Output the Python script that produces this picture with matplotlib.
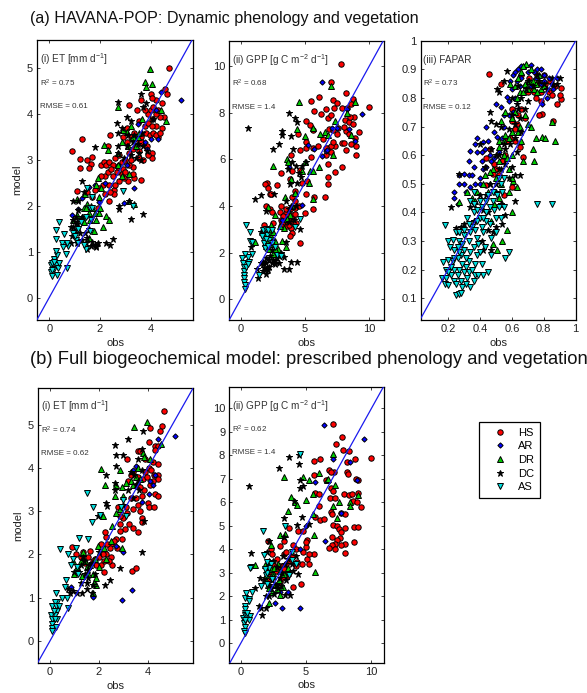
import numpy as np
import matplotlib
matplotlib.use("Agg")
import matplotlib.pyplot as plt

plt.rcParams['font.family'] = ['Liberation Sans', 'DejaVu Sans']
plt.rcParams['mathtext.fontset'] = 'custom'
plt.rcParams['mathtext.rm'] = 'Liberation Sans'
plt.rcParams['mathtext.default'] = 'regular'
plt.rcParams['axes.unicode_minus'] = False

# values, (obs, model) per site
a_et_hs = [(0.9,3.2),(1.3,3.46),(1.23,3.03),(1.23,2.83),(1.5,3.0),(1.68,3.07),(1.65,2.92),(1.55,2.82),(1.1,2.32),(2.4,3.55),(2.3,3.3),(3.15,4.2),(3.6,4.32),(3.6,2.56),(3.35,2.6),(4.7,5.0),(4.55,4.55),(4.65,4.45),(4.0,4.45),(4.05,3.15),(4.05,3.05),(2.35,2.1),(1.9,1.95),(1.5,2.3),(1.7,2.2),(2.05,2.9),(2.15,2.95),(2.25,2.9),(2.35,2.95),(2.5,2.9),(2.6,3.05),(2.75,3.1),(2.85,2.95),(3.0,3.0),(3.3,2.85),(3.3,2.7),(3.1,2.55),(2.95,2.6),(2.85,2.7),(2.75,2.55),(2.5,2.65),(2.2,2.65),(2.35,2.45),(2.1,2.45),(1.95,2.4),(2.55,2.35),(2.55,2.25),(2.2,2.25),(2.9,3.5),(3.05,3.7),(3.2,3.5),(3.35,3.6),(3.4,3.3),(3.55,3.2),(3.7,3.35),(3.8,3.6),(3.95,3.55),(4.1,3.6),(4.3,3.5),(4.45,3.7),(4.5,3.95),(4.35,3.95),(4.2,4.0),(4.05,3.9),(3.9,4.0),(3.75,4.1),(3.45,4.1),(3.55,3.85),(3.3,3.25),(3.15,3.15),(4.2,4.3),(4.45,4.25),(4.05,4.35),(3.9,3.1),(3.7,3.0),(3.55,3.05),(2.9,2.8),(2.65,2.75),(4.2,3.75),(4.0,4.1),(2.3,2.75),(2.45,2.8),(2.7,2.85),(3.0,2.75),(3.15,2.9),(3.2,3.0),(3.45,3.45),(3.6,3.5),(3.75,3.75),(3.9,3.8),(4.05,3.75),(4.2,3.55),(4.35,3.6),(4.1,4.15),(4.3,4.1),(3.6,3.4),(3.85,3.3),(2.6,2.45),(2.05,2.65),(1.8,2.35),(2.4,2.3),(3.05,3.4),(3.3,3.45)]
a_et_ar = [(5.2,4.3),(4.4,4.48),(3.35,2.38),(2.95,2.07),(1.3,2.17),(1.15,1.93),(0.9,1.8),(1.95,2.08),(1.8,2.45),(1.55,2.42),(2.7,2.9),(3.05,2.9),(3.5,3.78),(3.75,3.4),(3.85,3.25),(4.0,3.45),(4.1,3.9),(4.3,3.45),(4.2,4.1),(2.2,2.5)]
a_et_dr = [(3.95,4.98),(3.75,4.7),(4.05,4.66),(3.8,4.6),(2.7,4.15),(3.05,3.62),(3.2,3.75),(2.9,3.65),(2.85,3.4),(2.15,3.33),(2.3,3.22),(2.7,3.15),(2.7,2.9),(2.85,2.65),(3.15,2.7),(3.15,2.1),(3.35,2.05),(3.5,3.5),(3.4,3.3),(3.65,3.9),(4.6,3.85),(4.4,4.1),(1.9,2.6),(1.85,2.45),(1.4,2.25),(1.5,2.05),(1.95,2.2),(1.1,2.15),(0.95,1.7),(1.1,1.8),(1.35,1.95),(1.55,1.85),(1.8,1.85),(1.95,1.85),(2.25,1.78),(2.35,1.7),(1.35,1.65),(1.6,1.7),(2.1,1.55),(1.75,1.45),(1.55,1.3),(2.05,2.4),(1.7,1.95),(1.85,1.7),(1.45,1.95),(1.65,2.0),(1.3,1.75),(2.0,1.95),(3.3,3.5),(3.55,3.6),(3.1,3.3)]
a_et_dc = [(2.7,4.26),(3.6,4.45),(3.7,4.15),(3.8,4.25),(3.05,3.95),(2.65,3.8),(3.2,3.85),(2.7,3.6),(2.85,3.7),(1.8,3.28),(2.7,3.3),(2.7,3.15),(1.3,2.55),(1.35,2.3),(1.15,2.1),(2.75,2.0),(2.75,1.93),(3.15,2.1),(3.2,1.72),(3.7,1.82),(2.5,1.28),(2.25,1.2),(2.4,1.15),(1.9,1.2),(1.85,1.12),(1.85,1.1),(1.65,1.13),(1.7,1.22),(1.5,1.3),(1.5,1.05),(1.1,1.2),(0.85,1.2),(0.75,1.2),(0.9,1.35),(0.85,1.55),(1.0,1.45),(1.15,1.55),(0.95,1.7),(1.05,1.6),(1.3,1.75),(1.4,1.4),(1.55,1.5),(1.3,1.25),(0.95,2.1),(3.3,3.4),(3.55,3.15),(3.2,3.1),(3.05,3.3),(3.85,3.2),(4.1,3.9),(3.6,3.0),(1.05,1.75),(1.15,1.9),(0.95,1.55),(1.2,1.4),(1.1,1.65),(1.45,1.2),(1.8,1.15),(3.35,3.55),(3.5,3.35),(3.65,3.6),(3.4,3.05),(3.7,3.3),(3.1,3.55),(2.95,3.05)]
a_et_as = [(0.05,0.55),(0.1,0.48),(0.05,0.7),(0.12,0.75),(0.18,0.62),(0.28,0.72),(0.35,0.65),(0.4,0.75),(0.3,0.5),(0.18,0.85),(0.3,0.92),(0.28,1.02),(0.65,0.95),(0.7,0.65),(0.38,1.65),(0.25,1.48),(0.25,1.28),(0.6,1.38),(0.5,1.2),(0.75,1.12),(0.7,1.2),(0.95,1.4),(1.05,1.25),(1.15,1.5),(1.15,1.18),(1.45,1.05),(1.6,1.95),(1.7,1.95),(1.65,1.7),(1.5,2.4),(2.9,2.33),(3.3,2.0),(1.7,2.2),(1.25,1.65),(1.0,1.35),(0.55,1.1),(0.1,0.6),(0.2,0.78),(1.35,1.15),(1.6,1.45),(1.45,1.75)]

a_gpp_hs = [(7.8,10.1),(7.05,9.3),(8.2,8.85),(5.5,8.5),(6.05,8.65),(7.15,8.55),(7.5,8.4),(8.75,8.6),(9.95,8.25),(5.7,8.05),(6.25,7.95),(6.6,8.15),(7.25,8.2),(7.9,8.2),(8.3,8.2),(8.6,8.35),(5.1,7.65),(5.4,7.45),(5.6,7.25),(6.8,7.75),(7.05,7.9),(8.1,7.7),(8.4,7.6),(8.8,7.8),(8.7,7.5),(6.9,7.3),(7.2,7.25),(7.6,7.35),(8.2,7.2),(8.45,7.1),(9.2,7.15),(7.5,7.1),(4.45,7.1),(5.1,6.75),(5.1,6.5),(5.6,6.5),(6.0,6.55),(6.4,6.85),(6.75,6.5),(6.6,6.2),(7.0,6.3),(7.35,6.55),(7.85,6.7),(8.2,6.4),(8.6,6.65),(8.95,6.55),(9.0,6.2),(8.9,6.9),(8.05,6.7),(5.5,6.1),(4.6,6.4),(3.95,6.2),(4.0,5.5),(6.75,5.8),(7.85,5.65),(7.3,5.45),(6.8,5.25),(6.75,4.95),(6.55,4.4),(5.7,4.4),(3.15,5.4),(3.8,5.15),(4.6,5.55),(4.75,5.0),(5.15,5.05),(2.05,5.0),(1.9,4.95),(2.1,4.75),(2.8,4.9),(2.25,4.5),(2.35,4.5),(4.2,4.65),(4.0,4.4),(4.2,4.2),(5.1,4.5),(5.65,3.85),(2.0,4.0),(2.25,3.85),(2.45,3.75),(3.1,4.0),(3.05,3.75),(5.0,3.7),(4.55,4.0),(4.2,3.9),(3.8,3.85),(3.5,3.7),(3.8,3.45),(3.4,3.3),(4.1,3.3),(4.3,3.25),(3.1,3.4),(2.5,3.25),(1.85,3.2),(3.6,3.15),(3.9,3.05),(4.0,2.85),(4.6,2.4),(3.85,2.7),(3.5,3.5),(4.0,3.6),(3.25,3.25),(3.7,3.55),(3.6,3.35),(3.75,3.2),(4.05,3.5),(4.25,3.65),(3.3,3.55),(3.15,3.15),(3.55,3.85),(7.05,6.55),(6.6,6.5),(7.15,6.75),(8.0,7.4),(8.5,7.8)]
a_gpp_ar = [(6.35,9.3),(9.4,7.95),(8.3,8.15),(7.5,7.35),(8.4,7.3),(8.9,6.8),(3.75,5.65),(5.2,6.6),(6.35,6.15),(6.6,6.35),(5.7,6.45),(3.25,3.4),(4.75,4.05),(6.7,6.4),(7.1,7.35)]
a_gpp_dr = [(7.0,9.15),(4.5,8.45),(8.9,8.45),(8.3,8.0),(7.3,7.65),(4.35,7.3),(5.0,7.0),(6.2,7.1),(5.6,7.35),(6.55,7.15),(6.8,7.05),(8.55,7.05),(2.5,5.7),(3.6,6.0),(3.7,5.9),(3.9,5.15),(5.4,5.5),(6.05,5.65),(5.6,5.5),(7.2,6.2),(5.6,4.3),(3.45,4.4),(4.2,4.55),(2.15,3.95),(2.7,3.6),(1.1,2.45),(2.35,2.7),(2.25,2.45),(2.7,2.5),(2.35,3.2),(2.9,2.15),(3.55,2.25),(2.5,1.95),(3.35,3.05),(3.8,3.6),(4.0,4.0),(5.3,5.0),(5.0,5.9),(4.8,5.5),(1.9,2.8),(2.3,2.9),(2.0,2.3),(1.9,2.4),(2.15,2.65),(2.5,2.35),(2.2,2.15),(2.05,2.55),(2.55,2.9),(3.05,3.15),(3.6,3.45),(2.65,2.15),(3.2,2.5)]
a_gpp_dc = [(0.6,7.35),(3.75,8.0),(4.2,7.75),(4.4,7.6),(3.2,7.2),(3.25,7.05),(2.55,6.45),(2.95,6.65),(3.9,7.0),(4.1,6.45),(4.3,5.7),(3.65,5.6),(3.8,4.95),(4.8,5.7),(5.05,5.9),(4.7,5.25),(1.6,4.45),(1.1,4.3),(2.6,4.5),(3.5,4.2),(2.0,3.8),(3.75,3.85),(4.65,3.0),(3.5,2.45),(4.4,1.6),(3.95,1.6),(3.75,1.3),(3.4,1.28),(3.4,1.8),(3.0,1.55),(2.65,1.5),(2.2,1.4),(2.0,1.55),(1.85,1.35),(1.95,1.1),(1.7,1.2),(1.35,0.9),(1.3,1.3),(1.6,1.55),(2.0,1.75),(2.3,1.85),(0.8,2.25),(1.6,2.9),(2.4,2.1),(3.0,1.85),(3.1,2.0),(2.2,1.7),(2.4,1.55),(2.7,1.65),(2.85,1.75),(1.75,1.5),(2.15,1.25),(2.0,1.3),(1.75,1.6),(2.5,1.7),(3.9,4.0),(4.3,4.0),(4.15,3.4),(3.75,3.3),(4.0,5.9),(4.5,5.4),(4.35,5.0)]
a_gpp_as = [(0.4,3.2),(0.75,2.9),(0.75,2.5),(0.9,2.45),(0.85,1.95),(0.6,1.8),(0.65,1.6),(0.35,1.95),(0.1,1.75),(0.15,1.55),(0.25,1.4),(0.25,1.2),(0.3,1.05),(0.3,0.9),(0.3,0.75),(0.32,0.6),(0.32,0.45),(0.4,1.4),(0.55,1.5),(1.45,1.05),(1.8,2.6),(1.75,2.95),(2.05,2.75),(2.2,2.55),(2.4,2.4),(2.85,1.9),(3.15,1.85),(4.25,3.1),(4.65,3.45),(1.85,2.4),(2.0,3.0),(2.0,2.6),(2.15,2.95),(1.65,2.7),(1.9,2.2),(2.15,2.3),(2.65,2.25),(2.4,2.95)]

a_fapar_hs = [(0.455,0.885),(0.53,0.85),(0.91,0.835),(0.88,0.78),(0.91,0.795),(0.855,0.72),(0.79,0.745),(0.77,0.74),(0.67,0.595),(0.44,0.59),(0.55,0.46),(0.44,0.495),(0.62,0.65),(0.65,0.63),(0.5,0.55),(0.52,0.53),(0.48,0.535),(0.57,0.65),(0.46,0.62),(0.6,0.72),(0.63,0.71),(0.66,0.76),(0.72,0.83),(0.76,0.85),(0.8,0.88),(0.84,0.86),(0.87,0.84),(0.83,0.82),(0.78,0.79),(0.75,0.8),(0.71,0.87),(0.66,0.88),(0.9,0.81),(0.6,0.49),(0.56,0.6),(0.59,0.66),(0.62,0.69),(0.6,0.76),(0.64,0.74),(0.68,0.73),(0.49,0.57),(0.54,0.58),(0.74,0.82),(0.78,0.82),(0.81,0.85),(0.76,0.88),(0.7,0.82),(0.85,0.81)]
a_fapar_ar = [(0.68,0.91),(0.72,0.915),(0.76,0.9),(0.64,0.9),(0.61,0.88),(0.59,0.86),(0.6,0.83),(0.63,0.86),(0.66,0.87),(0.7,0.89),(0.75,0.87),(0.8,0.88),(0.83,0.87),(0.78,0.85),(0.72,0.84),(0.86,0.83),(0.82,0.8),(0.79,0.78),(0.5,0.78),(0.53,0.77),(0.57,0.805),(0.58,0.74),(0.44,0.7),(0.38,0.66),(0.37,0.64),(0.42,0.645),(0.38,0.61),(0.34,0.615),(0.33,0.58),(0.36,0.56),(0.41,0.58),(0.47,0.58),(0.42,0.55),(0.37,0.5),(0.3,0.5),(0.27,0.5),(0.24,0.47),(0.235,0.45),(0.26,0.43),(0.33,0.53),(0.3,0.535),(0.27,0.53),(0.51,0.665),(0.54,0.66),(0.55,0.7),(0.34,0.49),(0.4,0.52),(0.58,0.79),(0.62,0.8),(0.49,0.59),(0.46,0.6),(0.65,0.84),(0.69,0.85),(0.74,0.89),(0.78,0.9),(0.62,0.89),(0.66,0.91),(0.8,0.86),(0.85,0.85),(0.88,0.87),(0.45,0.65),(0.41,0.61),(0.44,0.56),(0.35,0.53),(0.31,0.47),(0.55,0.74),(0.61,0.75),(0.49,0.68),(0.4,0.5),(0.43,0.62),(0.52,0.61)]
a_fapar_dr = [(0.69,0.92),(0.73,0.86),(0.68,0.85),(0.65,0.82),(0.62,0.84),(0.59,0.85),(0.7,0.83),(0.75,0.85),(0.78,0.83),(0.72,0.9),(0.66,0.89),(0.56,0.75),(0.6,0.73),(0.53,0.72),(0.56,0.67),(0.6,0.68),(0.65,0.7),(0.7,0.71),(0.72,0.7),(0.85,0.715),(0.75,0.66),(0.79,0.665),(0.81,0.66),(0.87,0.65),(0.73,0.62),(0.74,0.58),(0.67,0.58),(0.6,0.6),(0.55,0.6),(0.52,0.63),(0.48,0.55),(0.43,0.53),(0.45,0.47),(0.38,0.47),(0.32,0.47),(0.27,0.435),(0.61,0.51),(0.63,0.49),(0.6,0.4),(0.54,0.43),(0.57,0.34),(0.54,0.3),(0.51,0.27),(0.48,0.29),(0.53,0.5),(0.58,0.55),(0.64,0.87),(0.67,0.91),(0.71,0.86),(0.77,0.88),(0.74,0.83),(0.67,0.82),(0.63,0.8),(0.62,0.75),(0.64,0.68),(0.58,0.66),(0.55,0.65),(0.52,0.58),(0.5,0.52),(0.46,0.54),(0.42,0.5),(0.35,0.45),(0.37,0.44),(0.66,0.65),(0.68,0.74),(0.58,0.47),(0.6,0.52),(0.49,0.43),(0.52,0.45),(0.47,0.37),(0.57,0.59),(0.52,0.65),(0.8,0.84),(0.76,0.82)]
a_fapar_dc = [(0.57,0.895),(0.51,0.83),(0.52,0.82),(0.55,0.86),(0.46,0.75),(0.5,0.71),(0.47,0.72),(0.53,0.7),(0.6,0.8),(0.63,0.78),(0.62,0.71),(0.65,0.73),(0.68,0.76),(0.9,0.87),(0.88,0.85),(0.85,0.87),(0.8,0.85),(0.77,0.86),(0.7,0.86),(0.64,0.84),(0.59,0.64),(0.56,0.62),(0.52,0.6),(0.5,0.6),(0.56,0.57),(0.6,0.56),(0.62,0.53),(0.65,0.53),(0.5,0.5),(0.46,0.5),(0.43,0.56),(0.4,0.64),(0.27,0.535),(0.22,0.42),(0.62,0.44),(0.56,0.39),(0.53,0.43),(0.45,0.4),(0.42,0.41),(0.25,0.345),(0.26,0.33),(0.3,0.36),(0.47,0.27),(0.42,0.27),(0.5,0.35),(0.48,0.33),(0.46,0.5),(0.66,0.8),(0.7,0.79),(0.73,0.84),(0.76,0.88),(0.82,0.83),(0.86,0.85),(0.69,0.83),(0.64,0.76),(0.6,0.74),(0.58,0.69),(0.62,0.66),(0.55,0.64),(0.53,0.55),(0.58,0.52),(0.5,0.47),(0.44,0.46),(0.4,0.46),(0.36,0.43),(0.34,0.42),(0.54,0.36),(0.45,0.34),(0.41,0.3),(0.52,0.55),(0.47,0.62),(0.63,0.61),(0.66,0.68),(0.36,0.37),(0.28,0.35)]
a_fapar_as = [(0.76,0.43),(0.85,0.43),(0.56,0.24),(0.58,0.26),(0.18,0.355),(0.25,0.33),(0.2,0.3),(0.23,0.305),(0.21,0.28),(0.2,0.235),(0.23,0.23),(0.17,0.225),(0.185,0.2),(0.16,0.17),(0.18,0.15),(0.2,0.145),(0.235,0.16),(0.25,0.11),(0.27,0.115),(0.28,0.12),(0.25,0.15),(0.28,0.16),(0.32,0.17),(0.34,0.14),(0.36,0.16),(0.37,0.18),(0.3,0.19),(0.27,0.2),(0.31,0.21),(0.33,0.23),(0.28,0.25),(0.24,0.27),(0.27,0.3),(0.3,0.32),(0.33,0.3),(0.36,0.28),(0.38,0.25),(0.41,0.22),(0.42,0.18),(0.45,0.19),(0.4,0.26),(0.43,0.28),(0.47,0.25),(0.35,0.35),(0.38,0.37),(0.32,0.38),(0.36,0.4),(0.4,0.38),(0.44,0.4),(0.46,0.36),(0.42,0.33),(0.38,0.31),(0.48,0.44),(0.5,0.38),(0.44,0.44),(0.5,0.33),(0.47,0.31),(0.34,0.44),(0.36,0.47),(0.52,0.42),(0.55,0.42),(0.53,0.38),(0.53,0.5),(0.55,0.52),(0.3,0.34),(0.27,0.33),(0.22,0.18),(0.19,0.17),(0.26,0.18),(0.29,0.14),(0.31,0.15),(0.33,0.19),(0.24,0.2),(0.22,0.21),(0.26,0.24),(0.3,0.27),(0.34,0.26),(0.37,0.22),(0.39,0.29),(0.41,0.35),(0.37,0.34),(0.34,0.33),(0.29,0.29),(0.33,0.36),(0.38,0.41),(0.41,0.42),(0.44,0.37),(0.46,0.42),(0.49,0.41),(0.45,0.46),(0.4,0.44),(0.42,0.38),(0.36,0.43),(0.48,0.47),(0.51,0.46),(0.52,0.52),(0.54,0.47),(0.29,0.22),(0.35,0.2),(0.24,0.24),(0.26,0.28),(0.39,0.18),(0.27,0.26),(0.31,0.24),(0.2,0.19)]

b_et_hs = [(4.65,5.33),(4.6,4.98),(4.5,4.85),(4.1,4.92),(4.05,4.6),(4.3,4.5),(4.4,4.5),(4.3,4.42),(3.15,4.22),(3.6,4.4),(3.7,4.4),(3.2,3.7),(3.55,3.6),(3.8,3.75),(3.85,3.5),(3.9,3.9),(4.05,4.0),(4.2,4.15),(4.4,4.1),(4.4,3.85),(4.4,3.75),(4.2,3.7),(4.3,3.4),(4.4,3.35),(4.0,3.2),(4.05,3.1),(4.25,3.1),(3.75,3.35),(3.5,3.3),(2.8,3.1),(3.1,3.1),(3.4,3.05),(3.7,3.0),(3.75,2.85),(3.75,2.75),(3.6,2.53),(3.4,2.62),(3.25,2.7),(3.05,2.6),(2.85,2.7),(3.0,2.85),(2.85,2.9),(2.95,2.35),(2.7,2.35),(2.5,2.25),(2.3,2.4),(2.25,2.52),(2.1,2.25),(2.45,2.15),(2.3,2.0),(2.5,1.95),(2.55,1.75),(2.2,1.85),(2.0,1.95),(1.85,1.9),(2.2,1.6),(1.75,1.85),(1.65,2.07),(1.35,2.05),(1.25,1.95),(1.05,2.0),(0.9,2.17),(1.45,1.8),(3.35,1.62),(3.5,1.68),(2.75,2.15),(3.9,4.2),(4.15,3.95),(3.4,3.9),(3.3,3.85),(2.35,2.25),(2.6,2.3),(2.4,1.85),(2.1,1.75),(1.9,1.75),(2.15,2.0),(2.85,2.55),(3.15,2.95),(3.3,3.3),(3.6,3.15),(3.95,3.8),(4.25,3.85),(4.1,3.6),(3.7,3.55),(1.55,1.95),(3.6,3.8)]
b_et_ar = [(5.1,4.75),(4.4,4.68),(4.2,3.6),(4.05,3.4),(3.75,3.22),(3.4,3.95),(3.5,4.05),(4.3,3.85),(3.35,1.17),(2.95,0.95),(1.75,1.02),(0.85,1.25),(3.0,2.05),(2.7,2.2),(4.1,3.7)]
b_et_dr = [(3.95,5.07),(3.45,4.95),(4.55,4.55),(3.8,4.35),(3.85,4.25),(2.1,3.97),(2.85,3.95),(3.3,3.7),(2.7,3.6),(2.95,3.55),(3.1,3.65),(2.25,3.6),(2.65,3.35),(3.0,3.35),(2.85,3.05),(2.15,2.9),(2.7,2.95),(2.55,2.65),(2.95,2.15),(2.2,2.15),(1.95,2.2),(1.85,1.9),(1.35,2.05),(0.95,1.85),(1.1,1.7),(1.5,1.7),(1.75,1.55),(1.9,1.45),(1.3,1.5),(1.0,1.55),(1.75,1.1),(1.9,1.3),(3.7,3.75),(4.1,4.2),(3.5,3.8),(1.55,1.55),(1.45,1.85),(1.65,1.75),(2.0,1.7),(1.25,1.85),(1.8,1.35),(2.3,1.9),(2.5,2.3),(3.4,3.6),(3.6,4.0)]
b_et_dc = [(2.65,4.53),(3.2,4.68),(3.8,4.85),(3.75,4.45),(3.0,4.3),(3.6,4.2),(2.7,4.3),(2.7,4.05),(2.3,3.85),(2.65,3.65),(2.65,3.5),(2.3,3.2),(2.35,3.12),(1.95,2.9),(2.0,2.05),(2.85,1.68),(3.75,2.05),(3.85,2.78),(2.45,1.4),(2.25,1.3),(1.55,1.45),(1.5,1.2),(1.7,1.1),(1.3,1.1),(1.25,1.35),(1.1,1.1),(0.95,1.15),(0.8,1.1),(0.75,1.2),(1.25,1.75),(1.0,1.6),(1.7,1.8),(1.4,1.85),(1.55,1.65),(3.3,3.9),(3.5,3.6),(3.6,3.7),(1.45,1.55),(1.6,1.75),(1.35,1.95),(1.2,1.6),(1.85,1.55),(1.5,1.35),(1.75,1.3),(3.45,3.85),(3.65,3.5),(3.2,3.5),(3.0,3.15),(3.75,3.95),(3.4,3.3)]
b_et_as = [(1.5,3.42),(1.75,3.1),(2.05,2.92),(1.7,2.75),(3.0,3.25),(2.9,3.1),(3.1,2.9),(1.2,2.37),(1.55,2.35),(0.4,2.12),(0.75,2.0),(0.95,1.9),(1.05,2.15),(0.65,1.4),(0.6,1.25),(0.25,1.1),(0.5,1.0),(0.7,1.0),(0.3,0.9),(0.2,0.9),(0.1,0.8),(0.25,0.8),(0.3,0.7),(0.05,0.6),(0.1,0.5),(0.3,0.5),(0.75,0.77),(0.1,0.38),(0.1,0.3),(0.08,0.22),(0.25,0.32),(1.1,1.7),(1.15,1.55),(0.85,1.75),(0.2,0.6),(0.15,0.7),(0.2,0.5),(0.35,0.8)]

b_gpp_hs = [(7.05,9.35),(7.75,8.8),(7.3,8.5),(7.8,8.25),(8.25,8.2),(5.6,7.75),(6.05,7.85),(8.75,7.85),(9.95,7.9),(8.1,7.7),(7.15,7.3),(6.75,7.4),(6.9,7.3),(8.1,7.3),(8.2,7.2),(5.6,7.15),(8.8,7.0),(9.0,6.95),(6.5,6.95),(6.9,6.6),(7.1,6.5),(5.7,6.4),(6.0,6.35),(6.85,6.2),(7.2,6.2),(7.9,6.35),(8.25,6.3),(8.5,6.35),(8.95,6.4),(8.6,6.05),(8.9,6.0),(9.2,5.8),(6.0,5.85),(6.9,5.6),(7.0,5.5),(5.65,5.4),(6.1,5.25),(6.4,5.3),(7.7,5.55),(8.0,5.5),(7.05,5.05),(7.4,5.0),(7.55,4.85),(7.95,4.9),(8.65,4.95),(9.0,4.95),(7.0,4.55),(7.7,4.75),(7.6,4.5),(7.35,4.4),(8.0,4.25),(8.65,4.3),(7.7,4.2),(7.25,4.25),(7.0,4.2),(6.75,4.05),(7.2,4.0),(8.0,3.85),(3.7,4.9),(4.35,4.8),(4.75,4.8),(5.1,4.4),(5.0,4.1),(5.6,3.8),(5.1,3.6),(4.7,3.4),(4.3,3.45),(5.2,3.4),(2.1,4.35),(2.35,4.0),(2.4,3.8),(3.0,4.15),(3.3,4.35),(2.75,3.6),(3.9,3.7),(3.5,3.4),(3.75,3.5),(3.1,3.3),(2.2,3.3),(2.2,3.0),(3.55,2.85),(3.0,2.6),(4.0,2.4),(4.6,2.55),(2.7,3.1),(5.0,4.3),(4.0,4.2),(3.3,3.8),(3.5,3.9),(4.2,3.3),(4.0,3.7),(3.65,3.05),(3.3,3.15),(2.45,3.4),(2.2,2.75),(2.9,3.3),(3.15,2.8),(4.25,4.0),(4.8,3.9),(5.2,3.8)]
b_gpp_ar = [(6.35,9.3),(9.4,8.7),(7.05,7.85),(8.4,7.7),(8.9,6.95),(5.7,6.85),(7.7,5.55),(6.45,4.35),(4.55,1.5),(3.15,1.5),(2.6,1.7),(3.6,2.2),(3.0,2.2),(5.0,5.0),(4.5,4.0)]
b_gpp_dr = [(7.05,8.05),(3.3,7.1),(4.8,7.1),(5.2,6.95),(6.0,7.25),(6.6,6.95),(7.2,6.75),(5.5,6.35),(3.85,6.25),(4.15,6.0),(4.3,5.9),(3.65,5.65),(5.0,6.1),(7.05,5.85),(7.55,6.0),(8.4,6.0),(8.4,5.85),(9.0,6.3),(7.4,5.35),(5.5,5.5),(5.6,4.6),(3.0,4.6),(3.4,4.65),(5.7,3.05),(2.3,4.2),(2.2,3.5),(2.5,3.0),(3.0,3.1),(3.6,3.2),(1.1,3.35),(2.0,3.1),(1.9,2.7),(2.6,2.5),(3.2,2.4),(3.0,2.05),(2.2,1.7),(2.4,2.2),(2.9,2.7),(6.7,7.0),(1.95,2.9),(2.3,3.15),(2.1,2.5),(2.55,3.2),(2.75,2.3),(2.2,2.35),(3.3,2.95),(2.85,3.4),(2.45,2.85),(1.85,3.35)]
b_gpp_dc = [(0.6,6.7),(3.7,7.95),(4.45,8.0),(4.45,7.65),(2.95,7.45),(4.5,6.95),(4.55,6.6),(4.8,6.7),(4.05,6.05),(4.7,5.4),(3.3,5.35),(4.3,5.05),(5.2,5.1),(3.35,4.55),(2.2,4.35),(0.8,3.85),(2.0,3.9),(2.5,3.5),(4.35,2.95),(1.5,2.8),(1.8,2.7),(1.1,2.35),(1.9,2.0),(2.2,2.0),(3.4,2.05),(3.8,2.05),(1.4,1.6),(1.55,1.5),(1.9,1.5),(1.6,1.2),(3.0,2.8),(3.4,3.4),(3.7,3.0),(4.0,3.1),(2.7,2.5),(2.15,2.5),(2.4,2.7),(2.85,2.35),(3.15,3.0),(2.55,2.1),(3.45,2.7),(3.6,3.6),(3.9,3.4),(2.05,3.1),(2.8,3.25),(3.2,3.7),(2.35,2.35),(4.2,3.7),(3.05,2.45)]
b_gpp_as = [(4.55,8.05),(1.7,4.8),(3.4,5.0),(1.8,3.75),(0.8,3.25),(0.75,3.2),(1.55,2.45),(1.9,2.9),(0.85,2.2),(0.4,2.15),(0.35,1.95),(0.6,1.9),(0.65,1.8),(0.3,1.6),(0.3,1.45),(0.35,1.3),(0.15,1.1),(0.3,1.2),(0.5,1.15),(0.75,1.15),(0.65,1.0),(0.25,0.85),(0.3,0.7),(0.28,0.55),(0.32,0.45),(2.0,3.0),(2.3,3.4),(3.9,3.9),(4.2,3.4),(2.0,2.55),(2.2,3.2),(1.85,3.15),(2.4,2.75),(2.05,3.45),(3.9,3.55),(3.7,2.9),(0.5,1.3),(0.3,1.0)]

site_names = ['HS', 'AR', 'DR', 'DC', 'AS']
site_markers = ['o', 'D', '^', '*', 'v']
site_colors = ['#ff0000', '#0000ff', '#00cc00', '#000000', '#00e0e0']
site_sizes = [3.9, 2.7, 3.7, 5.0, 3.7]


def draw_panel(box, sites, xlim, ylim, xticks, yticks, title, r2, rmse, xticklabels=None, yticklabels=None, left=False):
    # box is left, top, right, bottom in pixels
    l, t, r, b = box
    ax = fig.add_axes([l / 587, 1 - b / 693, (r - l) / 587, (b - t) / 693])
    for pts, name, m, c, s in zip(sites, site_names, site_markers, site_colors, site_sizes):
        pts = np.array(pts)
        ax.plot(pts[:, 0], pts[:, 1], ls='none', marker=m, ms=s, mfc=c, mec='black', mew=0.7, label=name)
    ax.plot([-5, 15], [-5, 15], color='#1a1aee', lw=0.9, zorder=5)
    ax.set_xlim(xlim)
    ax.set_ylim(ylim)
    ax.set_xticks(xticks)
    ax.set_yticks(yticks)
    if xticklabels:
        ax.set_xticklabels(xticklabels)
    if yticklabels:
        ax.set_yticklabels(yticklabels)
    ax.tick_params(direction='in', top=True, right=True, length=2.2, width=0.6, labelsize=8, pad=3, colors='#222222')
    for sp in ax.spines.values():
        sp.set_linewidth(0.9)
    ax.set_xlabel('obs', fontsize=8, labelpad=2.5, color='#222222')
    if left:
        ax.set_ylabel('model', fontsize=8, labelpad=3, color='#222222')
    tx = 0.017
    ax.text(tx, 0.932, title, transform=ax.transAxes, fontsize=7.2, va='center', color='#333333')
    ax.text(tx, 0.846, r2, transform=ax.transAxes, fontsize=5.8, va='center', color='#333333')
    ax.text(tx, 0.762, rmse, transform=ax.transAxes, fontsize=5.8, va='center', color='#333333')
    return ax


fig = plt.figure(figsize=(5.87, 6.93), dpi=100)

fig.text(30 / 587, 1 - 19 / 693, '(a) HAVANA-POP: Dynamic phenology and vegetation', fontsize=11.6, va='center', color='#111111')
fig.text(30 / 587, 1 - 360 / 693, '(b) Full biogeochemical model: prescribed phenology and vegetation', fontsize=13.25, va='center', color='#111111')

et_title = r'(i) ET [mm d$^{-1}$]'
gpp_title = r'(ii) GPP [g C m$^{-2}$ d$^{-1}$]'

draw_panel((37.3, 40, 193.3, 320), [a_et_hs, a_et_ar, a_et_dr, a_et_dc, a_et_as],
           (-0.47, 5.67), (-0.49, 5.62), [0, 2, 4], [0, 1, 2, 3, 4, 5],
           et_title, r'R$^2$ = 0.75', 'RMSE = 0.61', left=True)
draw_panel((229.3, 40.7, 384.3, 320), [a_gpp_hs, a_gpp_ar, a_gpp_dr, a_gpp_dc, a_gpp_as],
           (-0.88, 11.16), (-0.89, 11.08), [0, 5, 10], [0, 2, 4, 6, 8, 10],
           gpp_title, r'R$^2$ = 0.68', 'RMSE = 1.4')
draw_panel((420.7, 40.7, 575.7, 320), [a_fapar_hs, a_fapar_ar, a_fapar_dr, a_fapar_dc, a_fapar_as],
           (0.029, 1.0), (0.024, 1.0), [0.2, 0.4, 0.6, 0.8, 1.0], [0.1, 0.2, 0.3, 0.4, 0.5, 0.6, 0.7, 0.8, 0.9, 1.0],
           '(iii) FAPAR', r'R$^2$ = 0.73', 'RMSE = 0.12',
           xticklabels=['0.2', '0.4', '0.6', '0.8', '1'],
           yticklabels=['0.1', '0.2', '0.3', '0.4', '0.5', '0.6', '0.7', '0.8', '0.9', '1'])
draw_panel((38.3, 387.7, 193.3, 663.3), [b_et_hs, b_et_ar, b_et_dr, b_et_dc, b_et_as],
           (-0.48, 5.86), (-0.52, 5.86), [0, 2, 4], [0, 1, 2, 3, 4, 5],
           et_title, r'R$^2$ = 0.74', 'RMSE = 0.62', left=True)
ax = draw_panel((229.3, 387.3, 383.7, 662.7), [b_gpp_hs, b_gpp_ar, b_gpp_dr, b_gpp_dc, b_gpp_as],
                (-0.87, 10.94), (-0.82, 10.9), [0, 5, 10], [0, 1, 2, 3, 4, 5, 6, 7, 8, 9, 10],
                gpp_title, r'R$^2$ = 0.62', 'RMSE = 1.4')

handles, labels = ax.get_legend_handles_labels()
leg = fig.legend(handles, labels, loc='upper left', bbox_to_anchor=(479 / 587, 1 - 422 / 693),
                 fontsize=8, frameon=True, fancybox=False, edgecolor='black', framealpha=1,
                 borderaxespad=0, labelspacing=0.33, handlelength=2.8, handletextpad=0.2, borderpad=0.5)
leg.get_frame().set_linewidth(0.9)

plt.savefig('out.png', dpi=100)
plt.close()
